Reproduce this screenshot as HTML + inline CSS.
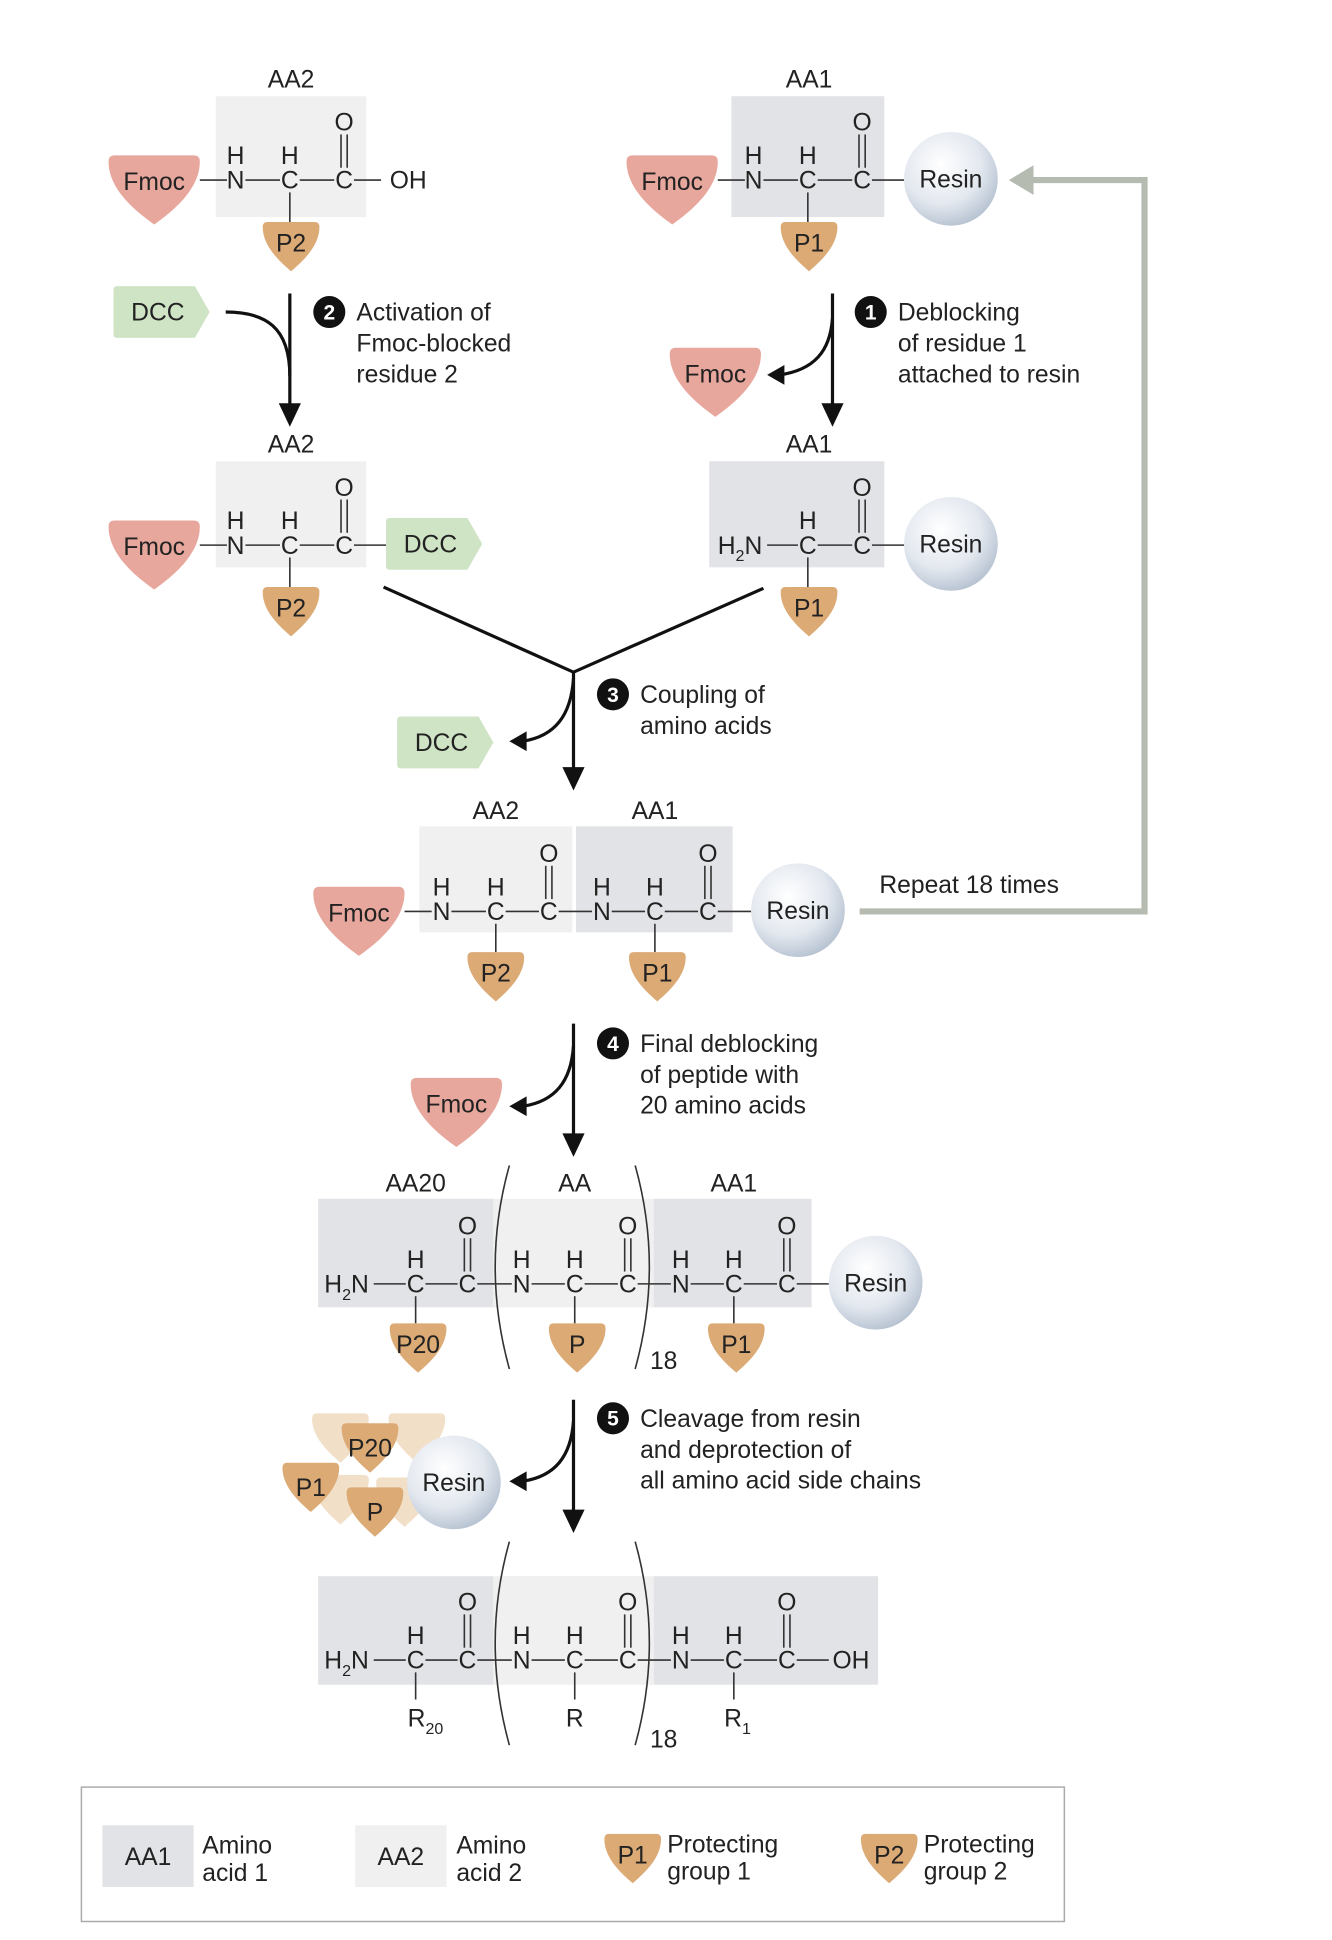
<!DOCTYPE html>
<html><head><meta charset="utf-8"><style>
html,body{margin:0;padding:0;background:#fff}
svg{display:block}
text{font-family:"Liberation Sans",sans-serif;font-size:20px;fill:#222}
.a{text-anchor:middle}
.b{stroke:#333;stroke-width:1.3;fill:none}
.k{stroke:#111;stroke-width:2.6;fill:none}
.lbl{font-size:20px;fill:#222}
.num{fill:#fff;font-weight:bold;font-size:17px;text-anchor:middle}
</style></head><body>
<svg width="1332" height="1940" viewBox="0 0 1080 1573" xmlns="http://www.w3.org/2000/svg">
<defs>
<radialGradient id="rg" cx="0.4" cy="0.35" r="0.7"><stop offset="0" stop-color="#ffffff"/><stop offset="0.6" stop-color="#e3e8ef"/><stop offset="1" stop-color="#b3bfcf"/></radialGradient>
<path id="fm" d="M-37,5 Q-37,0 -32,0 L32,0 Q37,0 37,5 C37,28 14,46 0,56 C-14,46 -37,28 -37,5Z" fill="#e8a79d"/>
<path id="pp" d="M-23,4 Q-23,0 -19,0 L19,0 Q23,0 23,4 C23,20 9,32 0,40 C-9,32 -23,20 -23,4Z" fill="#dcaa75"/>
<path id="pf" d="M-23,4 Q-23,0 -19,0 L19,0 Q23,0 23,4 C23,20 9,32 0,40 C-9,32 -23,20 -23,4Z" fill="#f1dfc8"/>
<path id="dc" d="M0,3 Q0,0 3,0 L66,0 L78,21 L66,42 L3,42 Q0,42 0,39Z" fill="#cfe4c5"/>
</defs>

<!-- Grey repeat arrow -->
<path d="M836,146 L928,146 L928,739 L697,739" stroke="#b6bbb1" stroke-width="5" fill="none"/>
<polygon points="818,146 838,134 838,158" fill="#b6bbb1"/>

<!-- ROW 1 LEFT -->
<g transform="translate(0,146)">
<text x="236" y="-75" class="a">AA2</text>
<rect x="175" y="-68" width="122" height="98" fill="#f0f0f0"/>
<use href="#fm" x="125" y="-20"/><text x="125" y="8" class="a">Fmoc</text>
<line x1="162" y1="0" x2="184" y2="0" class="b"/>
<text x="191" y="7" class="a">N</text><text x="191" y="-13" class="a">H</text>
<line x1="199" y1="0" x2="227" y2="0" class="b"/>
<text x="235" y="7" class="a">C</text><text x="235" y="-13" class="a">H</text>
<line x1="243" y1="0" x2="271" y2="0" class="b"/>
<text x="279" y="7" class="a">C</text><text x="279" y="-40" class="a">O</text>
<line x1="276.5" y1="-37" x2="276.5" y2="-10" class="b"/><line x1="281.5" y1="-37" x2="281.5" y2="-10" class="b"/>
<line x1="287" y1="0" x2="309" y2="0" class="b"/><text x="331" y="7" class="a">OH</text>
<line x1="235" y1="10" x2="235" y2="34" class="b"/>
<use href="#pp" x="236" y="34"/><text x="236" y="58" class="a">P2</text>
</g>

<!-- ROW 1 RIGHT -->
<g transform="translate(420,146)">
<text x="236" y="-75" class="a">AA1</text>
<rect x="173" y="-68" width="124" height="98" fill="#e2e3e6"/>
<use href="#fm" x="125" y="-20"/><text x="125" y="8" class="a">Fmoc</text>
<line x1="162" y1="0" x2="184" y2="0" class="b"/>
<text x="191" y="7" class="a">N</text><text x="191" y="-13" class="a">H</text>
<line x1="199" y1="0" x2="227" y2="0" class="b"/>
<text x="235" y="7" class="a">C</text><text x="235" y="-13" class="a">H</text>
<line x1="243" y1="0" x2="271" y2="0" class="b"/>
<text x="279" y="7" class="a">C</text><text x="279" y="-40" class="a">O</text>
<line x1="276.5" y1="-37" x2="276.5" y2="-10" class="b"/><line x1="281.5" y1="-37" x2="281.5" y2="-10" class="b"/>
<line x1="287" y1="0" x2="313" y2="0" class="b"/>
<circle cx="351" cy="-1" r="38" fill="url(#rg)"/><text x="351" y="6" class="a">Resin</text>
<line x1="235" y1="10" x2="235" y2="34" class="b"/>
<use href="#pp" x="236" y="34"/><text x="236" y="58" class="a">P1</text>
</g>

<!-- step 2 -->
<use href="#dc" x="92" y="232"/><text x="128" y="260" class="a">DCC</text>
<path d="M183,253 C215,253 235,265 235,305" class="k"/>
<line x1="235" y1="238" x2="235" y2="330" class="k"/>
<polygon points="235,346 226,327 244,327" fill="#111"/>
<circle cx="267" cy="253" r="13" fill="#111"/><text x="267" y="259" class="num">2</text>
<text x="289" y="260" class="lbl">Activation of</text>
<text x="289" y="285" class="lbl">Fmoc-blocked</text>
<text x="289" y="310" class="lbl">residue 2</text>

<!-- step 1 -->
<line x1="675" y1="238" x2="675" y2="330" class="k"/>
<polygon points="675,346 666,327 684,327" fill="#111"/>
<path d="M675,258 C673,285 660,300 632,304" class="k"/>
<polygon points="622,304 636,296 636,312" fill="#111"/>
<use href="#fm" x="580" y="282"/><text x="580" y="310" class="a">Fmoc</text>
<circle cx="706" cy="253" r="13" fill="#111"/><text x="706" y="259" class="num">1</text>
<text x="728" y="260" class="lbl">Deblocking</text>
<text x="728" y="285" class="lbl">of residue 1</text>
<text x="728" y="310" class="lbl">attached to resin</text>

<!-- ROW 2 LEFT -->
<g transform="translate(0,442)">
<text x="236" y="-75" class="a">AA2</text>
<rect x="175" y="-68" width="122" height="86" fill="#f0f0f0"/>
<use href="#fm" x="125" y="-20"/><text x="125" y="8" class="a">Fmoc</text>
<line x1="162" y1="0" x2="184" y2="0" class="b"/>
<text x="191" y="7" class="a">N</text><text x="191" y="-13" class="a">H</text>
<line x1="199" y1="0" x2="227" y2="0" class="b"/>
<text x="235" y="7" class="a">C</text><text x="235" y="-13" class="a">H</text>
<line x1="243" y1="0" x2="271" y2="0" class="b"/>
<text x="279" y="7" class="a">C</text><text x="279" y="-40" class="a">O</text>
<line x1="276.5" y1="-37" x2="276.5" y2="-10" class="b"/><line x1="281.5" y1="-37" x2="281.5" y2="-10" class="b"/>
<line x1="287" y1="0" x2="313" y2="0" class="b"/>
<use href="#dc" x="313" y="-22"/><text x="349" y="6" class="a">DCC</text>
<line x1="235" y1="10" x2="235" y2="34" class="b"/>
<use href="#pp" x="236" y="34"/><text x="236" y="58" class="a">P2</text>
</g>

<!-- ROW 2 RIGHT -->
<g transform="translate(420,442)">
<text x="236" y="-75" class="a">AA1</text>
<rect x="155" y="-68" width="142" height="86" fill="#e2e3e6"/>
<text x="180" y="7" class="a">H<tspan font-size="13" dy="6">2</tspan><tspan dy="-6">N</tspan></text>
<line x1="202" y1="0" x2="227" y2="0" class="b"/>
<text x="235" y="7" class="a">C</text><text x="235" y="-13" class="a">H</text>
<line x1="243" y1="0" x2="271" y2="0" class="b"/>
<text x="279" y="7" class="a">C</text><text x="279" y="-40" class="a">O</text>
<line x1="276.5" y1="-37" x2="276.5" y2="-10" class="b"/><line x1="281.5" y1="-37" x2="281.5" y2="-10" class="b"/>
<line x1="287" y1="0" x2="313" y2="0" class="b"/>
<circle cx="351" cy="-1" r="38" fill="url(#rg)"/><text x="351" y="6" class="a">Resin</text>
<line x1="235" y1="10" x2="235" y2="34" class="b"/>
<use href="#pp" x="236" y="34"/><text x="236" y="58" class="a">P1</text>
</g>

<!-- step 3 -->
<path d="M311,476 L465,545 L619,477" class="k"/>
<line x1="465" y1="545" x2="465" y2="625" class="k"/>
<polygon points="465,641 456,622 474,622" fill="#111"/>
<path d="M465,550 C463,580 450,597 424,601" class="k"/>
<polygon points="413,601 427,593 427,609" fill="#111"/>
<use href="#dc" x="322" y="581"/><text x="358" y="609" class="a">DCC</text>
<circle cx="497" cy="563" r="13" fill="#111"/><text x="497" y="569" class="num">3</text>
<text x="519" y="570" class="lbl">Coupling of</text>
<text x="519" y="595" class="lbl">amino acids</text>

<!-- ROW 3 -->
<g transform="translate(0,739)">
<text x="402" y="-75" class="a">AA2</text><text x="531" y="-75" class="a">AA1</text>
<rect x="340" y="-69" width="124" height="86" fill="#f0f0f0"/>
<rect x="467" y="-69" width="127" height="86" fill="#e2e3e6"/>
<use href="#fm" x="291" y="-20"/><text x="291" y="8" class="a">Fmoc</text>
<line x1="328" y1="0" x2="350" y2="0" class="b"/>
<text x="358" y="7" class="a">N</text><text x="358" y="-13" class="a">H</text>
<line x1="366" y1="0" x2="394" y2="0" class="b"/>
<text x="402" y="7" class="a">C</text><text x="402" y="-13" class="a">H</text>
<line x1="410" y1="0" x2="437" y2="0" class="b"/>
<text x="445" y="7" class="a">C</text><text x="445" y="-40" class="a">O</text>
<line x1="442.5" y1="-37" x2="442.5" y2="-10" class="b"/><line x1="447.5" y1="-37" x2="447.5" y2="-10" class="b"/>
<line x1="453" y1="0" x2="480" y2="0" class="b"/>
<text x="488" y="7" class="a">N</text><text x="488" y="-13" class="a">H</text>
<line x1="496" y1="0" x2="523" y2="0" class="b"/>
<text x="531" y="7" class="a">C</text><text x="531" y="-13" class="a">H</text>
<line x1="539" y1="0" x2="566" y2="0" class="b"/>
<text x="574" y="7" class="a">C</text><text x="574" y="-40" class="a">O</text>
<line x1="571.5" y1="-37" x2="571.5" y2="-10" class="b"/><line x1="576.5" y1="-37" x2="576.5" y2="-10" class="b"/>
<line x1="582" y1="0" x2="609" y2="0" class="b"/>
<circle cx="647" cy="-1" r="38" fill="url(#rg)"/><text x="647" y="6" class="a">Resin</text>
<line x1="402" y1="10" x2="402" y2="33" class="b"/><line x1="531" y1="10" x2="531" y2="33" class="b"/>
<use href="#pp" x="402" y="33"/><text x="402" y="57" class="a">P2</text>
<use href="#pp" x="533" y="33"/><text x="533" y="57" class="a">P1</text>
</g>
<text x="713" y="724" class="lbl">Repeat 18 times</text>

<!-- step 4 -->
<line x1="465" y1="830" x2="465" y2="922" class="k"/>
<polygon points="465,938 456,919 474,919" fill="#111"/>
<path d="M465,848 C463,877 450,893 424,897" class="k"/>
<polygon points="413,897 427,889 427,905" fill="#111"/>
<use href="#fm" x="370" y="874"/><text x="370" y="902" class="a">Fmoc</text>
<circle cx="497" cy="846" r="13" fill="#111"/><text x="497" y="852" class="num">4</text>
<text x="519" y="853" class="lbl">Final deblocking</text>
<text x="519" y="878" class="lbl">of peptide with</text>
<text x="519" y="903" class="lbl">20 amino acids</text>

<!-- ROW 4 -->
<g transform="translate(0,1041)">
<text x="337" y="-75" class="a">AA20</text><text x="466" y="-75" class="a">AA</text><text x="595" y="-75" class="a">AA1</text>
<rect x="258" y="-69" width="142" height="88" fill="#e2e3e6"/>
<rect x="400" y="-69" width="130" height="88" fill="#f0f0f0"/>
<rect x="530" y="-69" width="128" height="88" fill="#e2e3e6"/>
<text x="281" y="7" class="a">H<tspan font-size="13" dy="6">2</tspan><tspan dy="-6">N</tspan></text>
<line x1="303" y1="0" x2="329" y2="0" class="b"/>
<text x="337" y="7" class="a">C</text><text x="337" y="-13" class="a">H</text>
<line x1="345" y1="0" x2="371" y2="0" class="b"/>
<text x="379" y="7" class="a">C</text><text x="379" y="-40" class="a">O</text>
<line x1="376.5" y1="-37" x2="376.5" y2="-10" class="b"/><line x1="381.5" y1="-37" x2="381.5" y2="-10" class="b"/>
<line x1="387" y1="0" x2="415" y2="0" class="b"/>
<text x="423" y="7" class="a">N</text><text x="423" y="-13" class="a">H</text>
<line x1="431" y1="0" x2="458" y2="0" class="b"/>
<text x="466" y="7" class="a">C</text><text x="466" y="-13" class="a">H</text>
<line x1="474" y1="0" x2="501" y2="0" class="b"/>
<text x="509" y="7" class="a">C</text><text x="509" y="-40" class="a">O</text>
<line x1="506.5" y1="-37" x2="506.5" y2="-10" class="b"/><line x1="511.5" y1="-37" x2="511.5" y2="-10" class="b"/>
<line x1="517" y1="0" x2="544" y2="0" class="b"/>
<text x="552" y="7" class="a">N</text><text x="552" y="-13" class="a">H</text>
<line x1="560" y1="0" x2="587" y2="0" class="b"/>
<text x="595" y="7" class="a">C</text><text x="595" y="-13" class="a">H</text>
<line x1="603" y1="0" x2="630" y2="0" class="b"/>
<text x="638" y="7" class="a">C</text><text x="638" y="-40" class="a">O</text>
<line x1="635.5" y1="-37" x2="635.5" y2="-10" class="b"/><line x1="640.5" y1="-37" x2="640.5" y2="-10" class="b"/>
<line x1="646" y1="0" x2="672" y2="0" class="b"/>
<circle cx="710" cy="-1" r="38" fill="url(#rg)"/><text x="710" y="6" class="a">Resin</text>
<line x1="337" y1="10" x2="337" y2="32" class="b"/><line x1="466" y1="10" x2="466" y2="32" class="b"/><line x1="595" y1="10" x2="595" y2="32" class="b"/>
<use href="#pp" x="339" y="32"/><text x="339" y="56" class="a">P20</text>
<use href="#pp" x="468" y="32"/><text x="468" y="56" class="a">P</text>
<use href="#pp" x="597" y="32"/><text x="597" y="56" class="a">P1</text>
<path d="M413,-96 Q390,-14 413,69" class="b"/>
<path d="M515,-96 Q538,-14 515,69" class="b"/>
<text x="527" y="69" class="lbl">18</text>
</g>

<!-- step 5 -->
<line x1="465" y1="1135" x2="465" y2="1227" class="k"/>
<polygon points="465,1243 456,1224 474,1224" fill="#111"/>
<path d="M465,1152 C463,1181 450,1197 424,1201" class="k"/>
<polygon points="413,1201 427,1193 427,1209" fill="#111"/>
<use href="#pf" x="276" y="1146" transform="scale(1)"/>
<use href="#pf" x="338" y="1146"/>
<use href="#pf" x="276" y="1196"/>
<use href="#pf" x="328" y="1198"/>
<use href="#pp" x="300" y="1154"/><text x="300" y="1181" class="a">P20</text>
<use href="#pp" x="252" y="1186"/><text x="252" y="1213" class="a">P1</text>
<use href="#pp" x="304" y="1206"/><text x="304" y="1233" class="a">P</text>
<circle cx="368" cy="1202" r="38" fill="url(#rg)"/><text x="368" y="1209" class="a">Resin</text>
<circle cx="497" cy="1150" r="13" fill="#111"/><text x="497" y="1156" class="num">5</text>
<text x="519" y="1157" class="lbl">Cleavage from resin</text>
<text x="519" y="1182" class="lbl">and deprotection of</text>
<text x="519" y="1207" class="lbl">all amino acid side chains</text>

<!-- ROW 5 -->
<g transform="translate(0,1346)">
<rect x="258" y="-68" width="142" height="88" fill="#e2e3e6"/>
<rect x="400" y="-68" width="130" height="88" fill="#f0f0f0"/>
<rect x="530" y="-68" width="182" height="88" fill="#e2e3e6"/>
<text x="281" y="7" class="a">H<tspan font-size="13" dy="6">2</tspan><tspan dy="-6">N</tspan></text>
<line x1="303" y1="0" x2="329" y2="0" class="b"/>
<text x="337" y="7" class="a">C</text><text x="337" y="-13" class="a">H</text>
<line x1="345" y1="0" x2="371" y2="0" class="b"/>
<text x="379" y="7" class="a">C</text><text x="379" y="-40" class="a">O</text>
<line x1="376.5" y1="-37" x2="376.5" y2="-10" class="b"/><line x1="381.5" y1="-37" x2="381.5" y2="-10" class="b"/>
<line x1="387" y1="0" x2="415" y2="0" class="b"/>
<text x="423" y="7" class="a">N</text><text x="423" y="-13" class="a">H</text>
<line x1="431" y1="0" x2="458" y2="0" class="b"/>
<text x="466" y="7" class="a">C</text><text x="466" y="-13" class="a">H</text>
<line x1="474" y1="0" x2="501" y2="0" class="b"/>
<text x="509" y="7" class="a">C</text><text x="509" y="-40" class="a">O</text>
<line x1="506.5" y1="-37" x2="506.5" y2="-10" class="b"/><line x1="511.5" y1="-37" x2="511.5" y2="-10" class="b"/>
<line x1="517" y1="0" x2="544" y2="0" class="b"/>
<text x="552" y="7" class="a">N</text><text x="552" y="-13" class="a">H</text>
<line x1="560" y1="0" x2="587" y2="0" class="b"/>
<text x="595" y="7" class="a">C</text><text x="595" y="-13" class="a">H</text>
<line x1="603" y1="0" x2="630" y2="0" class="b"/>
<text x="638" y="7" class="a">C</text><text x="638" y="-40" class="a">O</text>
<line x1="635.5" y1="-37" x2="635.5" y2="-10" class="b"/><line x1="640.5" y1="-37" x2="640.5" y2="-10" class="b"/>
<line x1="646" y1="0" x2="672" y2="0" class="b"/><text x="690" y="7" class="a">OH</text>
<line x1="337" y1="10" x2="337" y2="32" class="b"/><line x1="466" y1="10" x2="466" y2="32" class="b"/><line x1="595" y1="10" x2="595" y2="32" class="b"/>
<text x="345" y="54" class="a">R<tspan font-size="13" dy="6">20</tspan></text>
<text x="466" y="54" class="a">R</text>
<text x="598" y="54" class="a">R<tspan font-size="13" dy="6">1</tspan></text>
<path d="M413,-96 Q390,-14 413,69" class="b"/>
<path d="M515,-96 Q538,-14 515,69" class="b"/>
<text x="527" y="71" class="lbl">18</text>
</g>

<!-- Legend -->
<rect x="66" y="1449" width="797" height="109" fill="none" stroke="#aaa" stroke-width="1.2"/>
<rect x="83" y="1480" width="74" height="50" fill="#e2e3e6"/><text x="120" y="1512" class="a">AA1</text>
<text x="164" y="1503" class="lbl">Amino</text><text x="164" y="1525" class="lbl">acid 1</text>
<rect x="288" y="1480" width="74" height="50" fill="#f0f0f0"/><text x="325" y="1512" class="a">AA2</text>
<text x="370" y="1503" class="lbl">Amino</text><text x="370" y="1525" class="lbl">acid 2</text>
<use href="#pp" x="513" y="1487"/><text x="513" y="1511" class="a">P1</text>
<text x="541" y="1502" class="lbl">Protecting</text><text x="541" y="1524" class="lbl">group 1</text>
<use href="#pp" x="721" y="1487"/><text x="721" y="1511" class="a">P2</text>
<text x="749" y="1502" class="lbl">Protecting</text><text x="749" y="1524" class="lbl">group 2</text>
</svg>
</body></html>
